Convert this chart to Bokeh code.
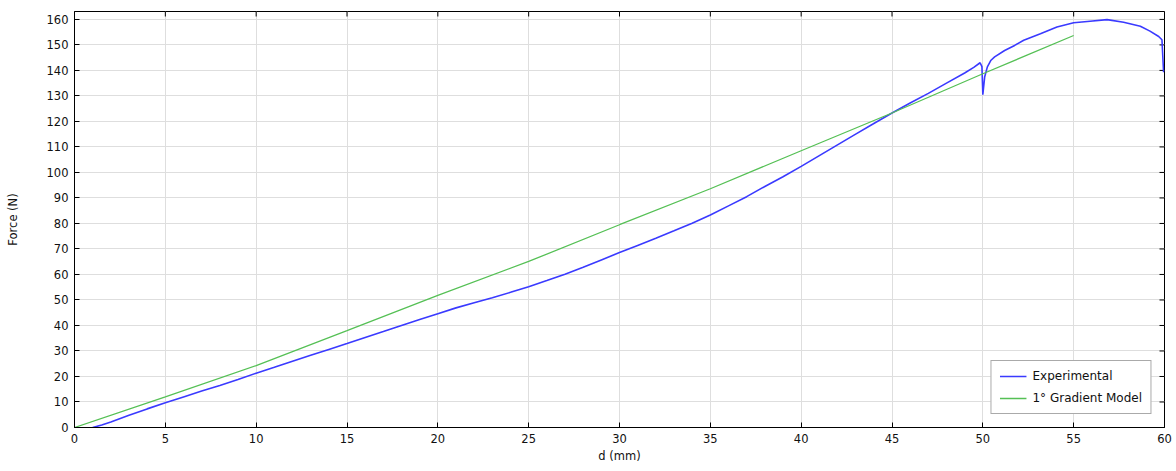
import numpy as np
from bokeh.plotting import figure
from bokeh.models import Range1d, SingleIntervalTicker, Legend, LegendItem
from bokeh.embed import file_html
from bokeh.resources import INLINE

# ---- data ----
exp_d = [1.0, 1.5, 2, 3, 4, 5, 6, 7, 8, 9, 10, 11, 12, 13, 14, 15, 16, 17, 18, 19,
         20, 21, 22, 23, 24, 25, 26, 27, 28, 29, 30, 31, 32, 33, 34, 35, 36, 37, 38, 39,
         40, 41, 42, 43, 44, 45, 46, 47, 48, 49, 49.5, 49.85, 49.95, 50.0, 50.1, 50.25,
         50.45, 50.65, 51.2, 51.75, 52.25, 53.17, 54.08, 55.0, 55.9, 56.84, 57.75, 58.67,
         59.2, 59.68, 59.86, 59.95]
exp_f = [0.0, 1.0, 2.2, 4.8, 7.3, 9.7, 12.0, 14.3, 16.5, 18.8, 21.3, 23.6, 26.0, 28.3,
         30.6, 32.9, 35.3, 37.6, 40.0, 42.3, 44.6, 46.9, 48.9, 50.9, 53.0, 55.2, 57.6,
         60.1, 62.8, 65.7, 68.6, 71.4, 74.2, 77.1, 80.1, 83.3, 86.9, 90.5, 94.5, 98.3,
         102.4, 106.6, 110.8, 115.0, 119.2, 123.3, 127.2, 131.0, 135.0, 139.0, 141.2,
         143.0, 141.5, 130.5, 137.4, 141.4, 144.0, 145.3, 147.8, 149.8, 151.8, 154.4,
         157.0, 158.7, 159.3, 159.9, 158.9, 157.3, 155.4, 153.3, 152.0, 139.3]

model_d = [0, 5, 10, 15, 20, 25, 30, 35, 40, 45, 50, 55]
model_f = [0, 12.0, 24.3, 38.0, 51.8, 65.1, 79.5, 93.6, 108.5, 123.3, 138.7, 153.7]

x_min, x_max, x_step = 0, 60, 5
y_min, y_max, y_step = 0, 163.1, 10

FONT = "DejaVu Sans"
TICK_FS = "11.5px"

p = figure(width=1176, height=471, output_backend="svg", toolbar_location=None,
           x_range=Range1d(x_min, x_max), y_range=Range1d(y_min, y_max),
           min_border_left=74, min_border_right=12, min_border_top=11, min_border_bottom=44)
p.background_fill_color = "white"
p.border_fill_color = "white"
p.outline_line_color = "black"
p.outline_line_width = 1

xt = SingleIntervalTicker(interval=x_step, num_minor_ticks=0)
yt = SingleIntervalTicker(interval=y_step, num_minor_ticks=0)

for ax in (p.xaxis[0], p.yaxis[0]):
    ax.major_tick_in = 5
    ax.major_tick_out = 0
    ax.minor_tick_in = 0
    ax.minor_tick_out = 0
    ax.axis_line_color = "black"
    ax.major_tick_line_color = "black"
    ax.major_label_text_font = FONT
    ax.major_label_text_font_size = TICK_FS
    ax.major_label_text_color = "#111111"
    ax.axis_label_text_font = FONT
    ax.axis_label_text_font_size = TICK_FS
    ax.axis_label_text_font_style = "normal"
    ax.axis_label_text_color = "#111111"

p.xaxis[0].ticker = xt
p.yaxis[0].ticker = yt
p.xaxis[0].axis_label = "d (mm)"
p.yaxis[0].axis_label = "Force (N)"
p.xaxis[0].major_label_standoff = 6
p.xaxis[0].axis_label_standoff = 3
p.yaxis[0].major_label_standoff = 6
p.yaxis[0].axis_label_standoff = 24

p.xgrid.ticker = xt
p.ygrid.ticker = yt
p.xgrid.grid_line_color = "#dedede"
p.ygrid.grid_line_color = "#dedede"

# inward tick marks on the top and right frame edges (clipped to the frame)
top_ticks = np.arange(x_min, x_max + 1e-9, x_step)
right_ticks = np.arange(y_min, y_max + 1e-9, y_step)
p.scatter(top_ticks, [y_max] * len(top_ticks), marker="dash", angle=np.pi / 2,
          size=10, line_color="black", line_width=1)
p.scatter([x_max] * len(right_ticks), right_ticks, marker="dash",
          size=10, line_color="black", line_width=1)

r_exp = p.line(exp_d, exp_f, line_color="#3a3aff", line_width=1.6)
r_mod = p.line(model_d, model_f, line_color="#55c055", line_width=1.3)

legend = Legend(items=[LegendItem(label="Experimental", renderers=[r_exp]),
                       LegendItem(label="1° Gradient Model", renderers=[r_mod])],
                location="bottom_right")
legend.margin = 13
legend.padding = 8
legend.spacing = 8
legend.glyph_height = 14
legend.glyph_width = 27
legend.label_standoff = 6
legend.label_text_font = FONT
legend.label_text_font_size = "12px"
legend.label_text_color = "#111111"
legend.border_line_color = "#555555"
legend.border_line_width = 1.5
legend.background_fill_alpha = 1.0
p.add_layout(legend, "center")

open("out.html", "w").write(file_html(p, INLINE))
